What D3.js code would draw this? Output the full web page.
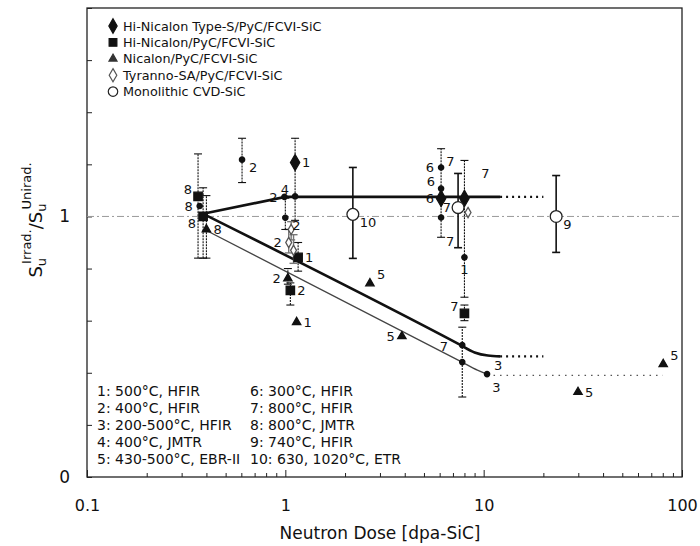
<!DOCTYPE html>
<html>
<head>
<meta charset="utf-8">
<script src="https://cdn.jsdelivr.net/npm/d3@7"></script>
<style>
  body { margin: 0; background: #fff; }
  svg { display: block; font-family: "DejaVu Sans", Verdana, sans-serif; }
</style>
</head>
<body>
<div id="chart"></div>
<script>
// ---- data ----
const xMajor = [0.1, 1, 10, 100];
const xTickLabels = ['0.1', '1', '10', '100'];
const yMajor = [0, 1];
const yTickLabels = ['0', '1'];

const legendNames = [
  'Hi-Nicalon Type-S/PyC/FCVI-SiC',
  'Hi-Nicalon/PyC/FCVI-SiC',
  'Nicalon/PyC/FCVI-SiC',
  'Tyranno-SA/PyC/FCVI-SiC',
  'Monolithic CVD-SiC'
];

const notesLeft = ['1: 500°C, HFIR', '2: 400°C, HFIR', '3: 200-500°C, HFIR', '4: 400°C, JMTR', '5: 430-500°C, EBR-II'];
const notesRight = ['6: 300°C, HFIR', '7: 800°C, HFIR', '8: 800°C, JMTR', '9: 740°C, HFIR', '10: 630, 1020°C, ETR'];

// [dose, ratio, errLow, errHigh, label, labelSide]
const typeS = [
  [1.12, 1.207, 0.985, 1.30, '1', 'r'],
  [6.1, 1.069, 0.92, 1.26, '6', 'l'],
  [8.0, 1.069, 0.69, 1.215, '', '']
];
const hiNicalon = [
  [0.363, 1.077, 0.84, 1.24, '8', 'lu'],
  [0.385, 1.0, 0.84, 1.11, '8', 'ld'],
  [1.16, 0.843, 0.79, 0.90, '1', 'r'],
  [1.06, 0.716, 0.66, 0.745, '2', 'r'],
  [8.0, 0.628, 0.60, 0.66, '7', 'lu']
];
const nicalon = [
  [0.40, 0.95, 0.84, 1.08, '8', 'r'],
  [1.03, 0.762, 0.74, 0.80, '2', 'l'],
  [1.14, 0.594, null, null, '1', 'r'],
  [2.67, 0.743, null, null, '5', 'ru'],
  [3.87, 0.54, null, null, '5', 'l'],
  [29.9, 0.326, null, null, '5', 'r'],
  [80.4, 0.433, null, null, '5', 'ru']
];
const tyranno = [
  [8.34, 1.015, null, null, '', ''],
  [1.04, 0.90, 0.86, 0.95, '2', 'l'],
  [1.1, 0.87, 0.82, 0.93, '', ''],
  [1.07, 0.95, 0.91, 0.98, '', '']
];
const cvd = [
  [2.19, 1.008, 0.839, 1.188, '10', 'rd'],
  [23.2, 1.0, 0.862, 1.157, '9', 'rd'],
  [7.43, 1.034, 0.88, 1.165, '7', 'l']
];
const dots = [
  [0.605, 1.218, 1.13, 1.30, '2', 'rd'],
  [0.37, 1.04, null, null, '8', 'l'],
  [0.99, 1.075, null, null, '2', 'l'],
  [1.0, 0.995, 0.95, 1.07, '2', 'rd'],
  [1.12, 1.077, null, null, '4', 'lu'],
  [6.1, 1.188, null, null, '6', 'l'],
  [6.1, 1.107, null, null, '6', 'lu'],
  [6.1, 0.996, null, null, '', ''],
  [8.0, 0.843, null, null, '1', 'd'],
  [7.8, 0.506, 0.307, 0.575, '', ''],
  [7.8, 0.441, null, null, '', ''],
  [10.4, 0.395, null, null, '3', 'ru']
];
// [dose, ratio, text] labels standing alone
const extraLabels = [
  [6.8, 1.21, '7'], [10.2, 1.165, '7'], [6.77, 0.905, '7'],
  [6.3, 0.50, '7'], [11.6, 0.345, '3']
];

// trend curves
const trendTypeS = [[0.385, 1.01], [1.0, 1.075], [12.1, 1.075]];
const trendTypeSExt = [[12.1, 1.075], [20, 1.075]];
const trendHiNic = [[0.385, 1.01], [7.5, 0.51], [9.0, 0.478], [10.5, 0.466], [12.1, 0.463]];
const trendHiNicExt = [[12.1, 0.463], [20, 0.463]];
const trendNic = [[0.40, 0.946], [7.78, 0.441], [9.3, 0.41], [10.4, 0.395]];
const trendNicExt = [[10.4, 0.39], [80, 0.39]];

// ---- drawing ----
const W = 700, H = 546;
const svg = d3.select('#chart').append('svg').attr('width', W).attr('height', H);

const x = d3.scaleLog().domain([0.1, 100]).range([87, 682]);
const y = d3.scaleLinear().domain([0, 1.8]).range([477, 8]);

// minor/major ticks
const xTicks = [];
xMajor.slice(0, 3).forEach(d => { for (let k = 1; k < 10; k++) xTicks.push(+(d * k).toPrecision(3)); });
xTicks.push(100);
const yTicks = d3.range(10).map(i => +(i * 0.2).toFixed(1));

const xAxis = svg.append('g')
  .attr('transform', `translate(0,${y.range()[0]})`)
  .call(d3.axisBottom(x).tickValues(xTicks).tickSize(-4).tickPadding(23)
    .tickFormat(d => { const i = xMajor.indexOf(d); return i >= 0 ? xTickLabels[i] : ''; }));
xAxis.select('.domain').remove();
xAxis.selectAll('.tick line').attr('stroke', '#222')
  .attr('y2', d => xMajor.includes(d) ? -7 : -4);
xAxis.selectAll('.tick text').attr('font-size', 16).attr('fill', '#111')
  .attr('font-family', '"DejaVu Sans", Verdana, sans-serif');

const yAxis = svg.append('g')
  .attr('transform', `translate(${x.range()[0]},0)`)
  .call(d3.axisLeft(y).tickValues(yTicks).tickSize(-5).tickPadding(17)
    .tickFormat(d => { const i = yMajor.indexOf(d); return i >= 0 ? yTickLabels[i] : ''; }));
yAxis.select('.domain').remove();
yAxis.selectAll('.tick line').attr('stroke', '#222');
yAxis.selectAll('.tick text').attr('font-size', 17).attr('fill', '#111')
  .attr('font-family', '"DejaVu Sans", Verdana, sans-serif');

// frame
svg.append('rect')
  .attr('x', x.range()[0]).attr('y', y.range()[1])
  .attr('width', x.range()[1] - x.range()[0])
  .attr('height', y.range()[0] - y.range()[1])
  .attr('fill', 'none').attr('stroke', '#222').attr('stroke-width', 1.3);

// reference line at ratio 1
svg.append('line')
  .attr('x1', x.range()[0]).attr('x2', x.range()[1])
  .attr('y1', y(1)).attr('y2', y(1))
  .attr('stroke', '#999').attr('stroke-width', 1).attr('stroke-dasharray', '7,3,2,3');

// axis titles
svg.append('text')
  .attr('x', 380).attr('y', 539).attr('text-anchor', 'middle')
  .attr('font-size', 17).attr('fill', '#111')
  .text('Neutron Dose [dpa-SiC]');

const yl = svg.append('text')
  .attr('transform', 'translate(42,220) rotate(-90)')
  .attr('text-anchor', 'middle').attr('font-size', 18).attr('fill', '#111');
yl.append('tspan').text('S');
yl.append('tspan').attr('dy', 4).attr('font-size', 13).text('u');
yl.append('tspan').attr('dx', -6).attr('dy', -15).attr('font-size', 13).text('Irrad.');
yl.append('tspan').attr('dy', 11).text('/S');
yl.append('tspan').attr('dy', 4).attr('font-size', 13).text('u');
yl.append('tspan').attr('dx', -6).attr('dy', -15).attr('font-size', 13).text('Unirad.');

// trend lines
const line = d3.line().x(d => x(d[0])).y(d => y(d[1])).curve(d3.curveMonotoneX);
const straight = d3.line().x(d => x(d[0])).y(d => y(d[1]));
const gLines = svg.append('g').attr('fill', 'none');
gLines.append('path').datum(trendTypeS).attr('d', straight).attr('stroke', '#111').attr('stroke-width', 2.6);
gLines.append('path').datum(trendHiNic).attr('d', line).attr('stroke', '#111').attr('stroke-width', 2.6);
gLines.append('path').datum(trendNic).attr('d', line).attr('stroke', '#444').attr('stroke-width', 1.3);
gLines.append('path').datum(trendTypeSExt).attr('d', straight).attr('stroke', '#111').attr('stroke-width', 2.2).attr('stroke-dasharray', '2,4');
gLines.append('path').datum(trendHiNicExt).attr('d', straight).attr('stroke', '#111').attr('stroke-width', 2.2).attr('stroke-dasharray', '2,4');
gLines.append('path').datum(trendNicExt).attr('d', straight).attr('stroke', '#555').attr('stroke-width', 1.2).attr('stroke-dasharray', '1.5,5');

// error bars
function drawErrors(data, dash, width, color) {
  const g = svg.append('g').attr('stroke', color).attr('stroke-width', width);
  const rows = data.filter(d => d[2] != null);
  g.selectAll('line.v').data(rows).join('line')
    .attr('x1', d => x(d[0])).attr('x2', d => x(d[0]))
    .attr('y1', d => y(d[2])).attr('y2', d => y(d[3]))
    .attr('stroke-dasharray', dash);
  [2, 3].forEach(k => {
    g.selectAll('line.c' + k).data(rows).join('line')
      .attr('x1', d => x(d[0]) - 4).attr('x2', d => x(d[0]) + 4)
      .attr('y1', d => y(d[k])).attr('y2', d => y(d[k]));
  });
}
drawErrors(typeS, '2,1', 1.1, '#111');
drawErrors(hiNicalon, '2,1', 1.1, '#111');
drawErrors(nicalon, '2,1', 1.1, '#111');
drawErrors(tyranno, null, 1.4, '#777');
drawErrors(dots, '2,1', 1.1, '#111');
drawErrors(cvd, null, 1.6, '#111');

// markers
function drawMarkers(data, type, size, fill, stroke) {
  svg.append('g').selectAll('path').data(data).join('path')
    .attr('transform', d => `translate(${x(d[0])},${y(d[1])})`)
    .attr('d', d3.symbol().type(type).size(size))
    .attr('fill', fill).attr('stroke', stroke).attr('stroke-width', 1.3);
}
drawMarkers(typeS, d3.symbolDiamond, 75, '#111', '#111');
drawMarkers(hiNicalon, d3.symbolSquare, 70, '#111', '#111');
drawMarkers(nicalon, d3.symbolTriangle, 30, '#111', '#111');
drawMarkers(tyranno, d3.symbolDiamond, 30, '#fff', '#555');
drawMarkers(dots, d3.symbolCircle, 22, '#111', '#111');
drawMarkers(cvd, d3.symbolCircle, 110, '#fff', '#222');

// point labels
const offsets = {
  r: [7, 0, 'start'], l: [-7, 0, 'end'],
  ru: [7, -9, 'start'], rd: [7, 8, 'start'],
  lu: [-6, -7, 'end'], ld: [-7, 7, 'end'], d: [0, 12, 'middle']
};
const allPoints = [].concat(typeS, hiNicalon, nicalon, tyranno, cvd, dots).filter(d => d[4]);
svg.append('g').attr('font-size', 13).attr('fill', '#111')
  .selectAll('text').data(allPoints).join('text')
  .attr('x', d => x(d[0]) + offsets[d[5]][0])
  .attr('y', d => y(d[1]) + offsets[d[5]][1])
  .attr('dy', '0.36em')
  .attr('text-anchor', d => offsets[d[5]][2])
  .text(d => d[4]);
svg.append('g').attr('font-size', 13).attr('fill', '#111')
  .selectAll('text').data(extraLabels).join('text')
  .attr('x', d => x(d[0])).attr('y', d => y(d[1]))
  .attr('dy', '0.36em').attr('text-anchor', 'middle')
  .text(d => d[2]);

// legend
const legendSymbols = [
  [d3.symbolDiamond, 60, '#111', '#111'],
  [d3.symbolSquare, 60, '#111', '#111'],
  [d3.symbolTriangle, 28, '#333', '#333'],
  [d3.symbolDiamond, 50, '#fff', '#555'],
  [d3.symbolCircle, 70, '#fff', '#222']
];
const leg = svg.append('g').attr('transform', 'translate(113,26)');
const item = leg.selectAll('g').data(legendNames).join('g')
  .attr('transform', (d, i) => `translate(0,${i * 16.4})`);
item.append('path')
  .attr('d', (d, i) => d3.symbol().type(legendSymbols[i][0]).size(legendSymbols[i][1])())
  .attr('fill', (d, i) => legendSymbols[i][2])
  .attr('stroke', (d, i) => legendSymbols[i][3]).attr('stroke-width', 1.2);
item.append('text').attr('x', 10).attr('dy', '0.36em')
  .attr('font-size', 12.8).attr('fill', '#111').text(d => d);

// condition notes
function drawNotes(list, left) {
  svg.append('g').attr('font-size', 14).attr('fill', '#111')
    .selectAll('text').data(list).join('text')
    .attr('x', left).attr('y', (d, i) => 391 + i * 17)
    .attr('dy', '0.36em').text(d => d);
}
drawNotes(notesLeft, 97);
drawNotes(notesRight, 250);
</script>
</body>
</html>
